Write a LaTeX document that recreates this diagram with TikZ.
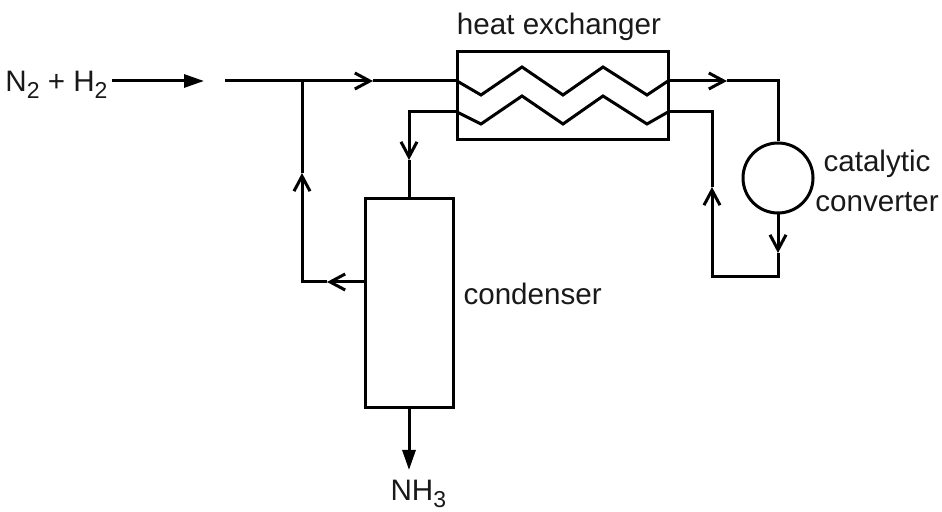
\documentclass[tikz,border=0pt]{standalone}
\usepackage{fontspec}
\setmainfont{Liberation Sans}
\usetikzlibrary{arrows.meta}
\newcommand{\lowsub}[1]{\raisebox{-3.5pt}{\fontsize{11.5}{11.5}\selectfont #1}}
\begin{document}
\begin{tikzpicture}[x=0.5pt,y=-0.5pt,
  line width=1.5pt, line join=miter,
  openarr/.style={-{Straight Barb[length=7.5pt,width=8pt,line width=1.5pt]}},
  fillarr/.style={-{Triangle[length=10pt,width=6.5pt]}},
  lbl/.style={inner sep=0pt, font=\fontsize{14.8}{20}\selectfont, text=black!90}]
\useasboundingbox (0,0) rectangle (942,512);
% equipment
\node[draw, minimum width=105.5pt, minimum height=44pt, inner sep=0pt] (hx) at (562.5,96) {};
\node[draw, minimum width=44pt, minimum height=104.5pt, inner sep=0pt] (cond) at (409,303.5) {};
\node[draw, circle, minimum size=35pt, inner sep=0pt] (cat) at (778,178) {};
% labels
\node[lbl, anchor=base east] (feed) at (109,92) {N\lowsub{2} + H\lowsub{2}};
\node[lbl, anchor=base] (hxl) at (559,35) {heat exchanger};
\node[lbl, anchor=base west] (condl) at (462,305) {condenser};
\node[lbl, anchor=base] (catl) at (877,172) {catalytic};
\node[lbl, anchor=base] (catl2) at (877,212) {converter};
\node[lbl, anchor=base west] (nh3) at (389,501) {NH\lowsub{3}};
% zigzags
\draw (457,81) -- (481,95) -- (522,67) -- (563,95) -- (603,67) -- (647,95) -- (668,81);
\draw (457,112) -- (481,124) -- (522,96) -- (563,124) -- (603,96) -- (647,124) -- (668,112);
% coordinates
\coordinate (fs) at (112,81);
\coordinate (fa) at (204,81);
\coordinate (in) at (225,81);
\coordinate (j) at (302,81);
\coordinate (a1) at (373,81);
\coordinate (hxi) at (457,81);
\coordinate (hxo2) at (457,112);
\coordinate (c1) at (409,112);
\coordinate (a2) at (409,160);
\coordinate (ct) at (409,199);
\coordinate (cb) at (409,408);
\coordinate (na) at (409,470);
\coordinate (cl) at (365,282);
\coordinate (a3) at (327,282);
\coordinate (rb) at (302,282);
\coordinate (a4) at (302,173);
\coordinate (hxo) at (668,81);
\coordinate (a5) at (727,81);
\coordinate (r1) at (778,81);
\coordinate (a6) at (778,253);
\coordinate (r2) at (778,277);
\coordinate (r3) at (712,277);
\coordinate (a7) at (712,187);
\coordinate (r4) at (712,112);
\coordinate (hxi2) at (668,112);
% feed
\draw[fillarr] (fs) -- (fa);
\draw[openarr] (in) -- (a1);
\draw (a1) -- (hxi);
% to condenser
\draw[openarr] (hxo2) -- (c1) -- (a2);
\draw (a2) -- (ct);
\draw[fillarr] (cb) -- (na);
% recycle
\draw[openarr] (cl) -- (a3);
\draw[openarr] (a3) -- (rb) -- (a4);
\draw (a4) -- (j);
% converter loop
\draw[openarr] (hxo) -- (a5);
\draw (a5) -- (r1) -- (cat.north);
\draw[openarr] (cat.south) -- (a6);
\draw[openarr] (a6) -- (r2) -- (r3) -- (a7);
\draw (a7) -- (r4) -- (hxi2);
\end{tikzpicture}
\end{document}
